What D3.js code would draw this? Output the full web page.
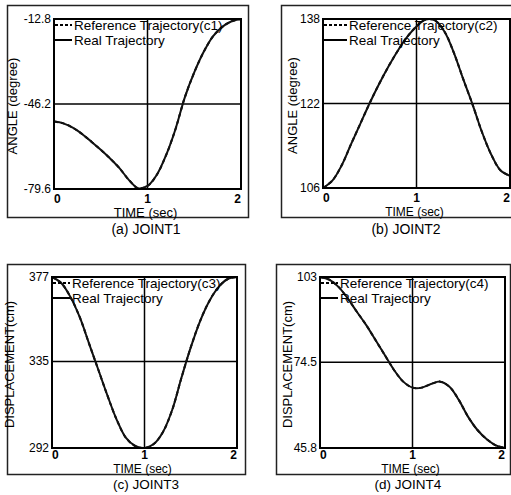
<!DOCTYPE html>
<html>
<head>
<meta charset="utf-8">
<script src="https://cdn.jsdelivr.net/npm/d3@7"></script>
<style>
  body { margin: 0; background: #fff; }
  svg { display: block; font-family: "Liberation Sans", Arial, sans-serif; }
</style>
</head>
<body>
<div class="canvas"></div>
<script>
// time samples (sec)
const time = [0, 0.1, 0.2, 0.3, 0.4, 0.5, 0.6, 0.7, 0.8, 0.9, 1.0,
              1.1, 1.2, 1.3, 1.4, 1.5, 1.6, 1.7, 1.8, 1.9, 2.0];

// real trajectories
const joint1 = [-53.1, -53.8, -55.5, -58.0, -61.0, -64.2, -67.6, -71.4, -76.0, -79.3, -78.4,
                -74.0, -66.2, -56.0, -43.5, -33.8, -25.8, -19.6, -15.9, -13.7, -12.8];
const joint2 = [106.0, 107.4, 110.3, 114.3, 118.2, 122.1, 125.7, 129.0, 132.0, 134.6, 136.6,
                137.9, 137.7, 135.6, 131.6, 126.6, 121.8, 116.6, 112.3, 109.3, 108.3];
const joint3 = [377, 374, 367, 357, 344, 331, 318, 306, 297, 293, 292,
                294, 300, 311, 327, 342, 355, 365, 372, 376, 377];
const joint4 = [103.0, 102.1, 99.7, 95.8, 91.3, 86.9, 81.9, 76.9, 71.9, 68.0, 66.0,
                66.0, 67.2, 68.0, 66.3, 61.9, 56.3, 51.9, 48.8, 46.7, 45.8];

// reference trajectories coincide with the real ones
const ref1 = joint1, ref2 = joint2, ref3 = joint3, ref4 = joint4;

const xTicks = [0, 1, 2];
const yTicks1 = [-79.6, -46.2, -12.8];
const yTicks2 = [106, 122, 138];
const yTicks3 = [292, 335, 377];
const yTicks4 = [45.8, 74.5, 103];

const captions = ['(a) JOINT1', '(b) JOINT2', '(c) JOINT3', '(d) JOINT4'];
const yTitles = ['ANGLE (degree)', 'ANGLE (degree)', 'DISPLACEMENT(cm)', 'DISPLACEMENT(cm)'];
const legendRef = ['Reference Trajectory(c1)', 'Reference Trajectory(c2)', 'Reference Trajectory(c3)', 'Reference Trajectory(c4)'];
const legendReal = 'Real Trajectory';

// layout of the four panels (top row has more room under the plot)
const panels = [
    { frame: [7, 5, 248, 217],   plot: [54, 19, 241, 189],   real: joint1, ref: ref1, ticks: yTicks1, capX: 146, ytX: 13, legGap: 1, top: true },
    { frame: [281, 5, 516, 217], plot: [323, 19, 510, 188],  real: joint2, ref: ref2, ticks: yTicks2, capX: 406, ytX: 293, legGap: 7, top: true },
    { frame: [7, 264, 245, 474], plot: [52, 277, 237, 448],  real: joint3, ref: ref3, ticks: yTicks3, capX: 146, ytX: 10, legGap: 1, top: false },
    { frame: [276, 264, 510, 474], plot: [320, 277, 505, 448], real: joint4, ref: ref4, ticks: yTicks4, capX: 408, ytX: 288, legGap: 1, top: false }
];

const svg = d3.select('.canvas')
    .append('svg')
    .attr('width', 511)
    .attr('height', 495);

panels.forEach((p, i) => {
    const [fx0, fy0, fx1, fy1] = p.frame;
    const [px0, py0, px1, py1] = p.plot;

    const x = d3.scaleLinear().domain([0, 2]).range([px0, px1]);
    const y = d3.scaleLinear().domain(d3.extent(p.ticks)).range([py1, py0]);

    const g = svg.append('g');

    // outer frame
    g.append('rect')
        .attr('x', fx0 + 0.5).attr('y', fy0 + 0.5)
        .attr('width', fx1 - fx0).attr('height', fy1 - fy0)
        .attr('fill', 'none').attr('stroke', '#222').attr('stroke-width', 1.5);

    // grid lines at middle ticks
    g.append('line')
        .attr('x1', x(1)).attr('x2', x(1)).attr('y1', py0).attr('y2', py1)
        .attr('stroke', '#000').attr('stroke-width', 1.5);
    g.append('line')
        .attr('x1', px0).attr('x2', px1).attr('y1', y(p.ticks[1])).attr('y2', y(p.ticks[1]))
        .attr('stroke', '#000').attr('stroke-width', 1.5);

    const line = d3.line()
        .x((d, k) => x(time[k]))
        .y(d => y(d))
        .curve(d3.curveCatmullRom.alpha(0.5));

    g.append('path').datum(p.ref)
        .attr('d', line).attr('fill', 'none')
        .attr('stroke', '#000').attr('stroke-width', 2).attr('stroke-dasharray', '4,3');
    g.append('path').datum(p.real)
        .attr('d', line).attr('fill', 'none')
        .attr('stroke', '#111').attr('stroke-width', 2);

    // plot frame
    g.append('rect')
        .attr('x', px0).attr('y', py0)
        .attr('width', px1 - px0).attr('height', py1 - py0)
        .attr('fill', 'none').attr('stroke', '#000').attr('stroke-width', 2);

    // y tick labels
    g.selectAll('.ytick').data(p.ticks).enter()
        .append('text')
        .attr('x', px0 - 3)
        .attr('y', d => y(d) + 4)
        .attr('text-anchor', 'end')
        .attr('font-size', 12)
        .attr('fill', '#000')
        .text(d => d);

    // x tick labels
    g.selectAll('.xtick').data(xTicks).enter()
        .append('text')
        .attr('x', d => x(d))
        .attr('y', py1 + (p.top ? 14 : 11))
        .attr('text-anchor', d => d === 0 ? 'start' : d === 2 ? 'end' : 'middle')
        .attr('font-size', 12)
        .attr('font-weight', 'bold')
        .attr('fill', '#000')
        .text(d => d);

    // axis titles
    g.append('text')
        .attr('x', (px0 + px1) / 2 - 2)
        .attr('y', py1 + (p.top ? 28 : 25))
        .attr('text-anchor', 'middle')
        .attr('font-size', p.top && i === 0 ? 13 : 12)
        .text('TIME (sec)');

    g.append('text')
        .attr('transform', `translate(${p.ytX + 4}, ${(py0 + py1) / 2 + 2}) rotate(-90)`)
        .attr('text-anchor', 'middle')
        .attr('font-size', 13)
        .text(yTitles[i]);

    // caption
    g.append('text')
        .attr('x', p.capX).attr('y', p.top ? 234 : 489)
        .attr('text-anchor', 'middle')
        .attr('font-size', p.top ? 14 : 13.5)
        .text(captions[i]);

    // legend
    const lx = px0 + 1;
    g.append('line')
        .attr('x1', lx).attr('x2', lx + 17 + p.legGap - 1)
        .attr('y1', py0 + 6).attr('y2', py0 + 6)
        .attr('stroke', '#000').attr('stroke-width', 2).attr('stroke-dasharray', '3,2');
    g.append('text')
        .attr('x', lx + 18 + p.legGap).attr('y', py0 + 11)
        .attr('font-size', 13.5)
        .text(legendRef[i]);
    g.append('line')
        .attr('x1', lx).attr('x2', lx + 17 + p.legGap - 1)
        .attr('y1', py0 + 21).attr('y2', py0 + 21)
        .attr('stroke', '#000').attr('stroke-width', 2);
    g.append('text')
        .attr('x', lx + 18 + p.legGap).attr('y', py0 + 26)
        .attr('font-size', 13.5)
        .text(legendReal);
});
</script>
</body>
</html>
